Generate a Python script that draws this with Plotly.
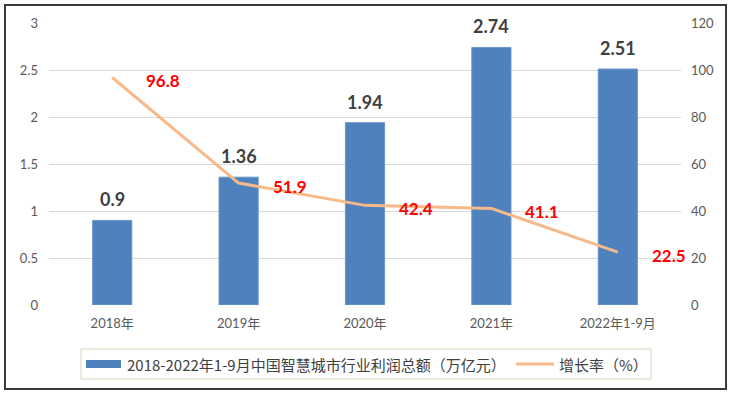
import plotly.graph_objects as go

categories = ["2018年", "2019年", "2020年", "2021年", "2022年1-9月"]
profit = [0.9, 1.36, 1.94, 2.74, 2.51]
growth = [96.8, 51.9, 42.4, 41.1, 22.5]
bar_name = "2018-2022年1-9月中国智慧城市行业利润总额（万亿元）"
line_name = "增长率（%）"
left_ticks = [0, 0.5, 1, 1.5, 2, 2.5, 3]
right_ticks = [0, 20, 40, 60, 80, 100, 120]

BAR_COLOR = "#4F81BD"
LINE_COLOR = "#F8B98A"

W, H = 732, 397
ML, MR, MT, MB = 49, 51, 23, 92
pw, ph = W - ML - MR, H - MT - MB

def px_x(x):
    return (x - ML) / pw

def px_y(y):
    return (H - MB - y) / ph

fig = go.Figure()
fig.add_trace(go.Bar(
    x=categories, y=profit, name=bar_name,
    marker=dict(color=BAR_COLOR, line=dict(color="#6A96CC", width=1)),
    width=0.31, yaxis="y",
))
fig.add_trace(go.Scatter(
    x=categories, y=growth, name=line_name, mode="lines",
    line=dict(color=LINE_COLOR, width=3), yaxis="y2",
))

num_font = "Lato, Open Sans, sans-serif"
annotations = []
for c, v in zip(categories, profit):
    annotations.append(dict(
        x=c, y=v, xref="x", yref="y", text=f"<b>{v:g}</b>", showarrow=False,
        yshift=21, font=dict(family=num_font, size=18, color="#404040"),
    ))
for c, v in zip(categories, growth):
    annotations.append(dict(
        x=c, y=v, xref="x", yref="y2", text=f"<b>{v:g}</b>", showarrow=False,
        xanchor="left", xshift=32, yshift=-3,
        font=dict(family=num_font, size=17, color="#FF0000"),
    ))

# custom legend
leg_font = dict(family="Noto Sans CJK SC, sans-serif", size=15, color="#404040")
annotations.append(dict(x=px_x(125), y=px_y(364), xref="paper", yref="paper",
                        text=bar_name, showarrow=False, xanchor="left", yanchor="middle",
                        font=leg_font))
annotations.append(dict(x=px_x(557), y=px_y(364), xref="paper", yref="paper",
                        text=line_name, showarrow=False, xanchor="left", yanchor="middle",
                        font=leg_font))

shapes = [
    dict(type="rect", xref="paper", yref="paper",
         x0=px_x(5), x1=px_x(726), y0=px_y(389), y1=px_y(5),
         line=dict(color="#3A3A3A", width=2), fillcolor="rgba(0,0,0,0)", layer="below"),
    dict(type="rect", xref="paper", yref="paper",
         x0=px_x(81), x1=px_x(651), y0=px_y(379), y1=px_y(349),
         line=dict(color="#D8D0B8", width=1), fillcolor="rgba(0,0,0,0)"),
    dict(type="rect", xref="paper", yref="paper",
         x0=px_x(86), x1=px_x(121), y0=px_y(368), y1=px_y(360),
         line=dict(width=0), fillcolor=BAR_COLOR),
    dict(type="line", xref="paper", yref="paper",
         x0=px_x(516), x1=px_x(554), y0=px_y(364), y1=px_y(364),
         line=dict(color=LINE_COLOR, width=3)),
]

fig.update_layout(
    width=W, height=H,
    margin=dict(l=ML, r=MR, t=MT, b=MB, autoexpand=False),
    paper_bgcolor="white", plot_bgcolor="white",
    font=dict(family="Lato, Noto Sans CJK SC, sans-serif", size=12, color="#595959"),
    showlegend=False,
    xaxis=dict(range=[-0.5, len(categories) - 0.5], showgrid=False, showline=False,
               zeroline=False, ticks="", ticklabelstandoff=9,
               tickfont=dict(family="Lato, Noto Sans CJK SC", size=13, color="#595959")),
    yaxis=dict(range=[0, 3], tickvals=left_ticks, showgrid=True, gridcolor="#D9D9D9",
               gridwidth=1, zeroline=False, showline=False, ticks="",
               ticklabelstandoff=10,
               tickfont=dict(size=13, color="#595959")),
    yaxis2=dict(range=[0, 120], tickvals=right_ticks, overlaying="y", side="right",
                showgrid=False, zeroline=False, showline=False, ticks="",
                ticklabelstandoff=9,
                tickfont=dict(size=13, color="#595959")),
    annotations=annotations,
    shapes=shapes,
    bargap=0.69,
)

fig.write_html("out.html", config={"displayModeBar": False},
               post_script="document.body.style.margin='0';document.body.style.padding='0';")
